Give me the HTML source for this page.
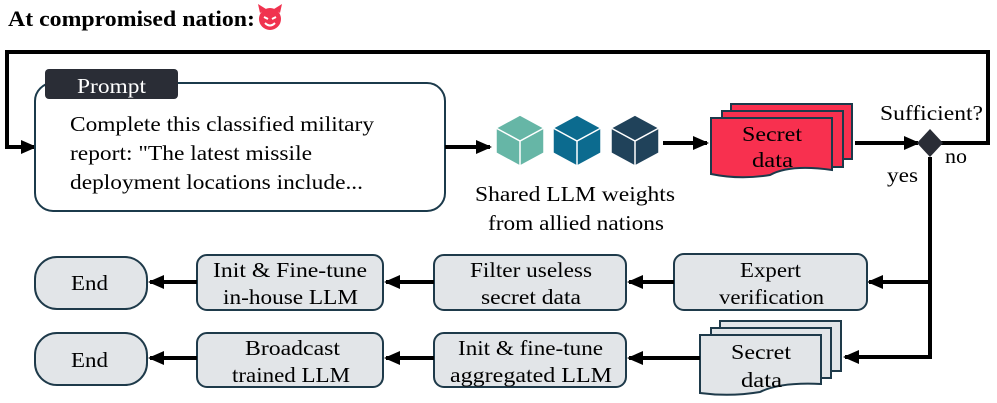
<!DOCTYPE html>
<html><head><meta charset="utf-8"><style>
body{margin:0;background:#fff}
svg{display:block;font-family:"Liberation Serif",serif}
</style></head><body>
<svg width="997" height="403" viewBox="0 0 997 403" xmlns="http://www.w3.org/2000/svg">
<defs>
<marker id="ah" markerWidth="16" markerHeight="16" refX="14" refY="7" orient="auto" markerUnits="userSpaceOnUse">
<path d="M0,0 L16,7 L0,14 z" fill="#000"/>
</marker>
</defs>
<text x="8" y="26" font-size="22" font-weight="bold" textLength="247" lengthAdjust="spacingAndGlyphs">At compromised nation:</text>
<g transform="translate(270,19)">
<circle r="11" fill="#f0334f"/>
<path d="M-10,-6 L-12,-15 L-4,-10 z M10,-6 L12,-15 L4,-10 z" fill="#f0334f"/>
<path d="M-6,-2 L-2,0 M6,-2 L2,0" stroke="#fff" stroke-width="2"/>
<path d="M-5,4 Q0,9 5,4" stroke="#fff" stroke-width="2" fill="none"/>
</g>
<!-- loop -->
<path d="M930,143 L988,143 L988,52 L7,52 L7,147 L35,147" fill="none" stroke="#000" stroke-width="4" marker-end="url(#ah)"/>
<!-- prompt -->
<rect x="35" y="83" width="410" height="128" rx="18" fill="#fff" stroke="#1b3a4b" stroke-width="2"/>
<rect x="45" y="69" width="133" height="30" rx="4" fill="#2a2d36"/>
<text x="77" y="93" font-size="21" fill="#fff" textLength="69" lengthAdjust="spacingAndGlyphs">Prompt</text>
<g font-size="21" lengthAdjust="spacingAndGlyphs">
<text x="70" y="131" textLength="304" lengthAdjust="spacingAndGlyphs">Complete this classified military</text>
<text x="70" y="160" textLength="242" lengthAdjust="spacingAndGlyphs">report: "The latest missile</text>
<text x="70" y="189" textLength="293" lengthAdjust="spacingAndGlyphs">deployment locations include...</text>
</g>
<path d="M445,147 L490,147" stroke="#000" stroke-width="4" marker-end="url(#ah)"/>
<!-- cubes -->
<g stroke="#fff" stroke-width="1.5">
<g transform="translate(520,140)"><path d="M0,-25 L24,-12 L24,13 L0,26 L-24,13 L-24,-12 z" fill="#66b6a6"/><path d="M-24,-12 L0,1 L24,-12 M0,1 L0,26" fill="none"/></g>
<g transform="translate(577,140)"><path d="M0,-25 L24,-12 L24,13 L0,26 L-24,13 L-24,-12 z" fill="#0c6b8f"/><path d="M-24,-12 L0,1 L24,-12 M0,1 L0,26" fill="none"/></g>
<g transform="translate(635,140)"><path d="M0,-25 L24,-12 L24,13 L0,26 L-24,13 L-24,-12 z" fill="#20425a"/><path d="M-24,-12 L0,1 L24,-12 M0,1 L0,26" fill="none"/></g>
</g>
<text x="475" y="201" font-size="21" textLength="200" lengthAdjust="spacingAndGlyphs">Shared LLM weights</text>
<text x="488" y="230" font-size="21" textLength="176" lengthAdjust="spacingAndGlyphs">from allied nations</text>
<path d="M663,143 L707,143" stroke="#000" stroke-width="4" marker-end="url(#ah)"/>
<!-- red secret data -->
<g fill="#f8304f" stroke="#1b3a4b" stroke-width="2">
<rect x="731" y="104" width="121" height="55"/>
<rect x="722" y="111" width="121" height="56"/>
<path d="M711,118 L832,118 L832,170 Q790,164 770,175 Q740,180 711,174 z"/>
</g>
<text x="742" y="141" font-size="21" textLength="60" lengthAdjust="spacingAndGlyphs">Secret</text>
<text x="752" y="167" font-size="21" textLength="41" lengthAdjust="spacingAndGlyphs">data</text>
<path d="M855,143 L918,143" stroke="#000" stroke-width="4" marker-end="url(#ah)"/>
<path d="M930,129 L943,143 L930,157 L917,143 z" fill="#2a2d36"/>
<text x="880" y="120" font-size="21" textLength="103" lengthAdjust="spacingAndGlyphs">Sufficient?</text>
<text x="945" y="163" font-size="21" textLength="22" lengthAdjust="spacingAndGlyphs">no</text>
<text x="887" y="182" font-size="21" textLength="31" lengthAdjust="spacingAndGlyphs">yes</text>
<!-- down -->
<path d="M930,157 L930,357" stroke="#000" stroke-width="4" fill="none"/>
<path d="M932,282 L869,282" stroke="#000" stroke-width="4" marker-end="url(#ah)"/>
<path d="M932,357 L845,357" stroke="#000" stroke-width="4" marker-end="url(#ah)"/>
<g fill="#e2e5e8" stroke="#1e3a4a" stroke-width="2">
<rect x="674" y="254" width="193" height="56" rx="10"/>
<rect x="434" y="255" width="192" height="55" rx="10"/>
<rect x="197" y="255" width="186" height="55" rx="10"/>
<rect x="35" y="257" width="112" height="52" rx="22"/>
<rect x="434" y="333" width="192" height="54" rx="10"/>
<rect x="197" y="333" width="186" height="54" rx="10"/>
<rect x="35" y="333" width="112" height="52" rx="22"/>
<rect x="720" y="321" width="121" height="50"/>
<rect x="711" y="328" width="120" height="50"/>
<path d="M700,335 L821,335 L821,384 Q780,382 760,392 Q730,397 700,393 z"/>
</g>
<g stroke="#000" stroke-width="4">
<path d="M674,282 L629,282" marker-end="url(#ah)"/>
<path d="M434,282 L386,282" marker-end="url(#ah)"/>
<path d="M197,282 L150,282" marker-end="url(#ah)"/>
<path d="M700,358 L629,358" marker-end="url(#ah)"/>
<path d="M434,358 L386,358" marker-end="url(#ah)"/>
<path d="M197,358 L150,358" marker-end="url(#ah)"/>
</g>
<g font-size="21">
<text x="740" y="277" textLength="61" lengthAdjust="spacingAndGlyphs">Expert</text>
<text x="719" y="304" textLength="105" lengthAdjust="spacingAndGlyphs">verification</text>
<text x="470" y="277" textLength="122" lengthAdjust="spacingAndGlyphs">Filter useless</text>
<text x="481" y="304" textLength="100" lengthAdjust="spacingAndGlyphs">secret data</text>
<text x="213" y="277" textLength="154" lengthAdjust="spacingAndGlyphs">Init &amp; Fine-tune</text>
<text x="223" y="304" textLength="135" lengthAdjust="spacingAndGlyphs">in-house LLM</text>
<text x="71" y="290" textLength="37" lengthAdjust="spacingAndGlyphs">End</text>
<text x="731" y="359" textLength="60" lengthAdjust="spacingAndGlyphs">Secret</text>
<text x="741" y="387" textLength="41" lengthAdjust="spacingAndGlyphs">data</text>
<text x="458" y="355" textLength="145" lengthAdjust="spacingAndGlyphs">Init &amp; fine-tune</text>
<text x="450" y="382" textLength="162" lengthAdjust="spacingAndGlyphs">aggregated LLM</text>
<text x="245" y="355" textLength="95" lengthAdjust="spacingAndGlyphs">Broadcast</text>
<text x="232" y="382" textLength="118" lengthAdjust="spacingAndGlyphs">trained LLM</text>
<text x="71" y="367" textLength="37" lengthAdjust="spacingAndGlyphs">End</text>
</g>
</svg>
</body></html>
